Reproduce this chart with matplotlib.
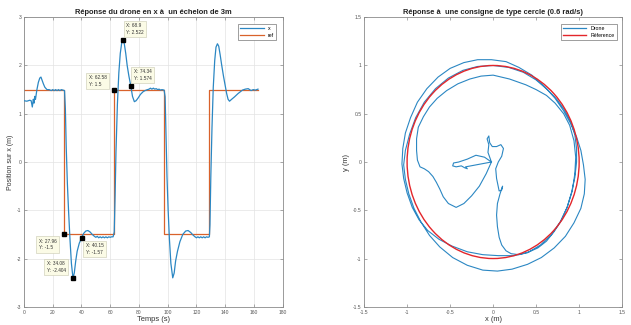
import matplotlib
matplotlib.use("Agg")
import matplotlib.pyplot as plt
from matplotlib.patches import Circle
from matplotlib.lines import Line2D
from matplotlib.ticker import FuncFormatter, MultipleLocator

plt.rcParams['font.family'] = ['Liberation Sans', 'DejaVu Sans']

# ---------------- Left chart data ----------------
left_title = "Réponse du drone en x à  un échelon de 3m"
left_xlabel = "Temps (s)"
left_ylabel = "Position sur x (m)"

ref_t = [0, 27.96, 27.96, 62.58, 62.58, 97.6, 97.6, 128.8, 128.8, 162.8]
ref_x = [1.5, 1.5, -1.5, -1.5, 1.5, 1.5, -1.5, -1.5, 1.5, 1.5]

drone_t = [0, 2, 4, 5.0, 5.8, 6.5, 7.0, 7.5, 8.0, 9.0, 10.0, 11.0, 11.8, 12.5, 13.5, 14.5,
           16.0, 17.5, 19, 20, 21, 22, 23, 24, 25, 26, 27, 28.2, 28.8, 29.4, 30.2, 31.0,
           32.0, 33.0, 34.08, 35.0, 36.0, 37.0, 38.5, 40.15, 41.5, 43.0, 44.5, 46.0, 47.5,
           49, 50, 51, 52, 53, 54, 55, 56, 57, 58, 59, 60, 61, 62, 62.8, 63.4, 64.0, 65.0,
           66.0, 67.0, 68.0, 68.9, 69.8, 70.8, 71.8, 73.0, 74.34, 75.5, 76.8, 78.0, 79.5,
           81, 83, 85, 87, 88, 89, 90, 91, 92, 93, 94, 95, 96, 97.5, 98.2, 98.8, 99.5,
           100.3, 101.2, 102.2, 103.5, 104.5, 105.5, 106.8, 108.5, 110.5, 112.5, 114.2,
           116, 117.5, 119, 120, 121, 122, 123, 124, 125, 126, 127, 128, 129, 129.4,
           130.0, 130.8, 131.7, 132.7, 133.6, 134.6, 135.5, 136.5, 137.5, 138.8, 140,
           141, 142, 143, 144.5, 146.5, 149, 152, 154, 156, 158, 159.5, 161, 162.8]
drone_x = [1.27, 1.26, 1.28, 1.27, 1.14, 1.30, 1.22, 1.36, 1.30, 1.50, 1.65, 1.74, 1.76,
           1.70, 1.62, 1.55, 1.50, 1.50, 1.48, 1.50, 1.48, 1.50, 1.48, 1.50, 1.48, 1.50,
           1.49, 1.48, 1.10, 0.30, -0.45, -1.00, -1.60, -2.10, -2.404, -2.30, -2.05, -1.85,
           -1.68, -1.57, -1.48, -1.43, -1.42, -1.45, -1.50, -1.54, -1.56, -1.54, -1.57,
           -1.55, -1.57, -1.55, -1.57, -1.55, -1.57, -1.55, -1.56, -1.55, -1.55, -1.45,
           -0.70, 0.20, 1.20, 1.85, 2.25, 2.47, 2.522, 2.45, 2.25, 2.00, 1.78, 1.574,
           1.36, 1.25, 1.27, 1.33, 1.40, 1.46, 1.49, 1.51, 1.53, 1.51, 1.53, 1.51, 1.52,
           1.50, 1.51, 1.49, 1.50, 1.49, 1.35, 0.60, -0.30, -1.00, -1.60, -2.10, -2.40,
           -2.30, -2.05, -1.85, -1.65, -1.50, -1.43, -1.42, -1.46, -1.51, -1.55, -1.57,
           -1.55, -1.57, -1.55, -1.57, -1.55, -1.57, -1.55, -1.56, -1.55, -1.30, -0.30,
           0.70, 1.55, 2.10, 2.38, 2.45, 2.40, 2.22, 2.02, 1.78, 1.58, 1.42, 1.30, 1.26,
           1.30, 1.35, 1.42, 1.49, 1.51, 1.52, 1.48, 1.50, 1.49, 1.51]

tip_x = [62.58, 68.9, 74.34, 27.96, 40.15, 34.08]
tip_y = [1.5, 2.522, 1.574, -1.5, -1.57, -2.404]
tip_labels = ["X: 62.58\nY: 1.5", "X: 68.9\nY: 2.522", "X: 74.34\nY: 1.574",
              "X: 27.96\nY: -1.5", "X: 40.15\nY: -1.57", "X: 34.08\nY: -2.404"]
tip_text_pos = [(45.0, 1.80), (71.3, 2.88), (76.3, 1.92),
                (10.2, -1.59), (42.9, -1.68), (15.8, -2.05)]

# ---------------- Right chart data ----------------
right_title = "Réponse à  une consigne de type cercle (0.6 rad/s)"
right_xlabel = "x (m)"
right_ylabel = "y (m)"
ref_radius = 1.0
ref_center = (0.0, 0.0)

path_pts = [
    # start: wandering around the origin
    (-0.02, 0.00), (-0.10, 0.05), (-0.20, 0.07), (-0.30, 0.03), (-0.40, 0.00),
    (-0.46, -0.01), (-0.47, -0.04), (-0.43, -0.05), (-0.37, -0.04), (-0.33, -0.06),
    (-0.30, -0.07), (-0.32, -0.05), (-0.20, -0.03), (-0.02, 0.00), (-0.06, 0.10),
    (-0.05, 0.18), (-0.07, 0.24), (-0.05, 0.27), (-0.04, 0.20), (-0.01, 0.16),
    (0.04, 0.16), (0.09, 0.18), (0.12, 0.14), (0.10, 0.06), (0.06, 0.00),
    (0.03, -0.07), (0.04, -0.17), (0.07, -0.30), (0.10, -0.29), (0.11, -0.25),
    (0.08, -0.33), (0.05, -0.43), (0.04, -0.55), (0.05, -0.67), (0.07, -0.78),
    (0.10, -0.86), (0.15, -0.92), (0.21, -0.95), (0.30, -0.96), (0.42, -0.93),
    # loop 1
    (0.52, -0.89), (0.62, -0.82), (0.71, -0.72), (0.79, -0.61), (0.86, -0.47),
    (0.91, -0.32), (0.95, -0.16), (0.97, 0.00), (0.97, 0.14), (0.95, 0.28),
    (0.90, 0.42), (0.83, 0.54), (0.74, 0.65), (0.63, 0.75), (0.50, 0.85),
    (0.35, 0.93), (0.18, 0.98), (0.00, 1.00), (-0.18, 0.99), (-0.35, 0.95),
    (-0.52, 0.87), (-0.67, 0.76), (-0.80, 0.62), (-0.90, 0.46), (-0.97, 0.29),
    (-1.02, 0.12), (-1.04, -0.03), (-1.02, -0.18), (-0.98, -0.33), (-0.92, -0.48),
    (-0.84, -0.62), (-0.74, -0.76), (-0.62, -0.88), (-0.47, -0.99), (-0.30, -1.07),
    (-0.12, -1.12), (0.05, -1.13), (0.22, -1.11), (0.40, -1.06), (0.56, -0.99),
    (0.71, -0.89), (0.84, -0.77), (0.94, -0.63), (1.02, -0.48), (1.06, -0.33),
    # loop 2
    (1.07, -0.18), (1.05, -0.03), (1.02, 0.12), (0.97, 0.26), (0.90, 0.40),
    (0.82, 0.53), (0.72, 0.66), (0.60, 0.78), (0.45, 0.90), (0.30, 0.98),
    (0.15, 1.04), (-0.02, 1.06), (-0.18, 1.06), (-0.34, 1.03), (-0.50, 0.97),
    (-0.64, 0.88), (-0.77, 0.76), (-0.88, 0.62), (-0.96, 0.46), (-1.02, 0.30),
    (-1.05, 0.14), (-1.06, -0.02), (-1.04, -0.17), (-1.00, -0.32), (-0.94, -0.47),
    (-0.86, -0.60), (-0.76, -0.71), (-0.63, -0.80), (-0.48, -0.87), (-0.30, -0.93),
    (-0.12, -0.96), (0.06, -0.97), (0.24, -0.97), (0.40, -0.94), (0.55, -0.86),
    (0.68, -0.75), (0.78, -0.62), (0.86, -0.47), (0.92, -0.30), (0.95, -0.12),
    # last arc and return to the origin
    (0.96, 0.05), (0.94, 0.22), (0.89, 0.38), (0.82, 0.50), (0.72, 0.61),
    (0.62, 0.69), (0.50, 0.75), (0.38, 0.80), (0.19, 0.86), (0.00, 0.90),
    (-0.14, 0.89), (-0.27, 0.86), (-0.41, 0.81), (-0.54, 0.74), (-0.65, 0.66),
    (-0.74, 0.57), (-0.81, 0.47), (-0.87, 0.36), (-0.89, 0.24), (-0.89, 0.12),
    (-0.88, 0.02), (-0.85, -0.05), (-0.80, -0.07), (-0.75, -0.10), (-0.70, -0.15),
    (-0.66, -0.21), (-0.62, -0.28), (-0.58, -0.36), (-0.52, -0.43), (-0.43, -0.47),
    (-0.34, -0.43), (-0.25, -0.35), (-0.16, -0.25), (-0.08, -0.12), (-0.02, 0.00),
]
path_x = [p[0] for p in path_pts]
path_y = [p[1] for p in path_pts]

# ---------------- Styling ----------------
blue = '#2b87c3'
orange = '#d9622b'
red = '#e3262b'
axis_col = '#8a8a8a'
tick_col = '#555555'

fig = plt.figure(figsize=(6.31, 3.25), dpi=100)
fig.patch.set_facecolor('white')

fmt = FuncFormatter(lambda v, p: ('%g' % v).replace('\u2212', '-'))


def style_axes(ax):
    for s in ax.spines.values():
        s.set_color(axis_col)
        s.set_linewidth(0.6)
    ax.tick_params(direction='in', length=2, width=0.5, colors=axis_col,
                   labelcolor=tick_col, labelsize=3.6, top=True, right=True, pad=2)
    ax.xaxis.set_major_formatter(fmt)
    ax.yaxis.set_major_formatter(fmt)


# Left axes
ax1 = fig.add_axes([0.038, 0.056, 0.410, 0.891])
ax1.plot(drone_t, drone_x, color=blue, lw=0.9, label='x', zorder=3)
ax1.plot(ref_t, ref_x, color=orange, lw=0.9, label='ref', zorder=2)
ax1.set_xlim(0, 180)
ax1.set_ylim(-3, 3)
ax1.xaxis.set_major_locator(MultipleLocator(20))
ax1.yaxis.set_major_locator(MultipleLocator(1))
ax1.grid(True, color='#e3e3e3', lw=0.5)
style_axes(ax1)
ax1.set_title(left_title, fontsize=5.4, fontweight='bold', pad=2, color='#222222')
ax1.set_xlabel(left_xlabel, fontsize=5.4, labelpad=1, color='#333333')
ax1.set_ylabel(left_ylabel, fontsize=5.0, labelpad=2, color='#333333')
leg1 = ax1.legend(loc='upper right', fontsize=3.8, handlelength=4.5, borderpad=0.4,
                  labelspacing=0.3, framealpha=1, fancybox=False, edgecolor='#777777',
                  bbox_to_anchor=(0.985, 0.985))
leg1.get_frame().set_linewidth(0.5)

for (xx, yy, lab, (tx, ty)) in zip(tip_x, tip_y, tip_labels, tip_text_pos):
    ax1.plot([xx], [yy], marker='s', ms=2.3, color='black', zorder=5)
    ax1.text(tx, ty, lab, fontsize=3.4, ha='left', va='top', color='#333333',
             linespacing=1.4, zorder=6,
             bbox=dict(boxstyle='square,pad=0.5', fc='#fbfbe6', ec='#c8c8b0', lw=0.4))

# Right axes
ax2 = fig.add_axes([0.577, 0.056, 0.409, 0.891])
ax2.plot(path_x, path_y, color=blue, lw=0.8, zorder=2)
circ = Circle(ref_center, ref_radius, fill=False, color=red, lw=1.0, zorder=3)
ax2.add_patch(circ)
ax2.set_xlim(-1.5, 1.5)
ax2.set_ylim(-1.5, 1.5)
ax2.xaxis.set_major_locator(MultipleLocator(0.5))
ax2.yaxis.set_major_locator(MultipleLocator(0.5))
style_axes(ax2)
ax2.set_title(right_title, fontsize=5.4, fontweight='bold', pad=2, color='#222222')
ax2.set_xlabel(right_xlabel, fontsize=5.4, labelpad=1, color='#333333')
ax2.set_ylabel(right_ylabel, fontsize=5.4, labelpad=2, color='#333333')
handles = [Line2D([], [], color=blue, lw=0.9), Line2D([], [], color=red, lw=1.0)]
leg2 = ax2.legend(handles, ['Drone', 'Réference'], loc='upper right', fontsize=3.8,
                  handlelength=4.5, borderpad=0.4, labelspacing=0.3, framealpha=1,
                  fancybox=False, edgecolor='#777777', bbox_to_anchor=(0.99, 0.985))
leg2.get_frame().set_linewidth(0.5)

fig.savefig('out.png', dpi=100, facecolor='white')
